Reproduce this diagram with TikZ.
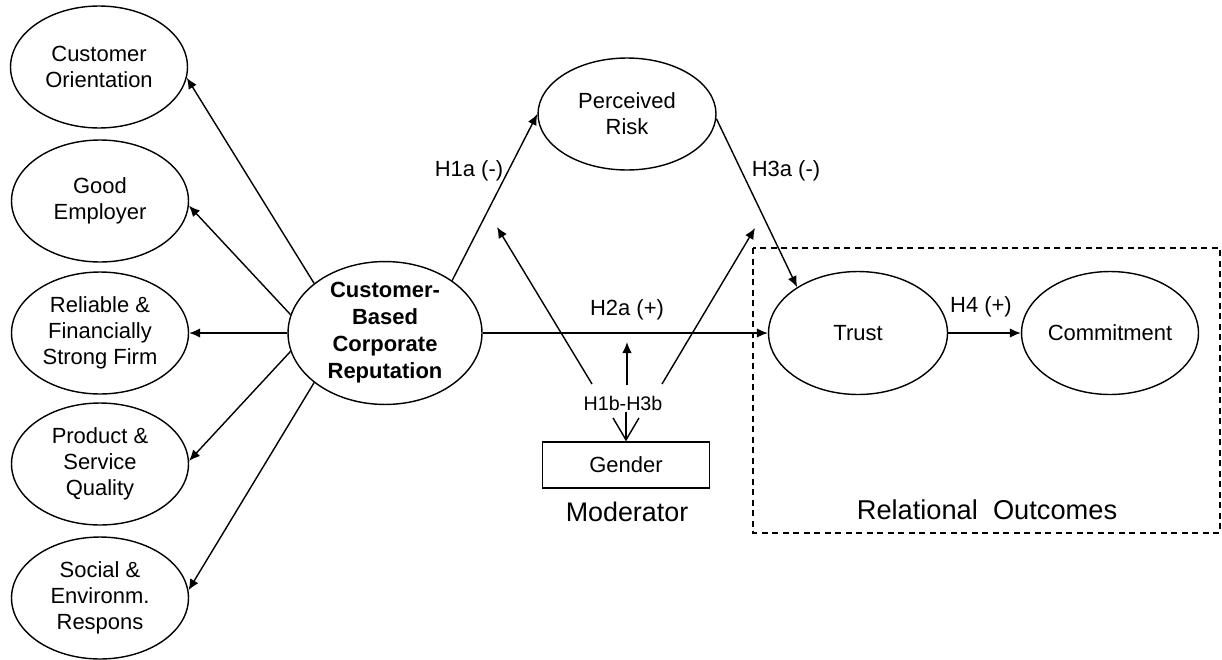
\documentclass[tikz,border=0pt]{standalone}
\usepackage{fontspec}
\setmainfont{Liberation Sans}
\usetikzlibrary{shapes.geometric,arrows.meta}

\tikzset{
    latent/.style={draw, ellipse, line width=0.8pt, inner sep=0pt, align=center,
        minimum width=3.54cm, minimum height=2.44cm,
        font=\fontsize{12.5}{14.9}\selectfont},
    hyparrow/.style={-{Latex[length=2.2mm,width=1.9mm]}, line width=0.8pt},
    hyplabel/.style={font=\fontsize{12.5}{15}\selectfont, inner sep=1pt}
}

\begin{document}
\begin{tikzpicture}[x=0.02cm, y=-0.02cm]
        \useasboundingbox (0, 0) rectangle (1222, 659);

        % Dimensions of reputation
        \node [latent] (custor) at (99, 67) {Customer\\Orientation};
        \node [latent] (goodemp) at (100, 201) {Good\\Employer};
        \node [latent] (reliable) at (100, 333) {Reliable \&\\Financially\\Strong Firm};
        \node [latent] (product) at (100, 464) {Product \&\\Service\\Quality};
        \node [latent] (social) at (100, 598) {Social \&\\Environm.\\Respons};

        % Central construct
        \node [latent, minimum width=3.88cm, minimum height=2.54cm,
            font=\fontsize{12.5}{15.4}\selectfont\bfseries] (cbcr) at (385, 333)
            {Customer-\\Based\\Corporate\\Reputation};

        % Mediator and outcomes
        \node [latent, minimum width=3.56cm, minimum height=2.24cm] (risk) at (627, 114) {Perceived\\Risk};
        \node [latent, minimum width=3.58cm, minimum height=2.46cm] (trust) at (858, 333) {Trust};
        \node [latent, minimum width=3.54cm, minimum height=2.46cm] (commit) at (1110, 333) {Commitment};

        % Relational outcomes frame
        \draw [line width=0.8pt, dash pattern=on 0.12cm off 0.09cm] (753, 248) rectangle (1220, 533);
        \node [font=\fontsize{15.5}{18}\selectfont] (relout) at (987, 510) {Relational\ \ Outcomes};

        % Moderator
        \node [draw, line width=0.8pt, minimum width=3.34cm, minimum height=0.92cm,
            font=\fontsize{12.5}{15}\selectfont] (gender) at (626, 465) {Gender};
        \node [font=\fontsize{15.3}{18}\selectfont] (moder) at (627, 512) {Moderator};
        \node [font=\fontsize{11.2}{13}\selectfont, inner sep=1pt] (hb) at (623, 403) {H1b-H3b};

        % Reflective arrows
        \draw [hyparrow] (cbcr.145) -- (custor.-7);
        \draw [hyparrow] (cbcr.169) -- (goodemp.-3);
        \draw [hyparrow] (cbcr.180) -- (reliable.east);
        \draw [hyparrow] (cbcr.191) -- (product.2);
        \draw [hyparrow] (cbcr.215) -- (social.5);

        % Hypotheses
        \draw [hyparrow] (cbcr.38) -- (risk.west);
        \draw [hyparrow] (risk.-3) -- (trust.143);
        \draw [hyparrow] (cbcr.east) -- (trust.west);
        \draw [hyparrow] (trust.east) -- (commit.west);

        \node [hyplabel] (h1a) at (469, 171) {H1a (-)};
        \node [hyplabel] (h3a) at (786, 171) {H3a (-)};
        \node [hyplabel] (h2a) at (627, 310) {H2a (+)};
        \node [hyplabel] (h4) at (981, 307) {H4 (+)};

        % Moderating arrows
        \coordinate (m1) at (497, 227);
        \coordinate (m2) at (627, 342);
        \coordinate (m3) at (755, 228);
        \draw [hyparrow] (592, 384) -- (m1);
        \draw [hyparrow] (hb.north) ++(4, -9) -- (m2);
        \draw [hyparrow] (662, 384) -- (m3);
        \draw [-{Straight Barb[length=4.4mm,width=5.2mm]}, line width=0.8pt] (hb.south) ++(3, 0) -- (gender.north);

    \end{tikzpicture}
\end{document}
